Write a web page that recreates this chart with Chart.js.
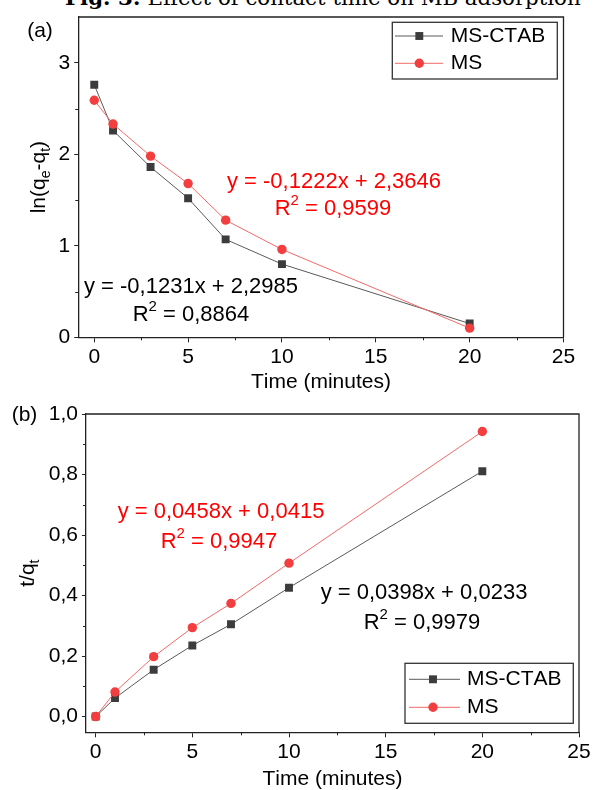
<!DOCTYPE html>
<html>
<head>
<meta charset="utf-8">
<script src="https://cdn.jsdelivr.net/npm/chart.js@4.4.0/dist/chart.umd.min.js"></script>
<style>
  body { margin: 0; background: #fff; width: 595px; height: 790px; position: relative; overflow: hidden; }
  .panel { position: absolute; left: 0; width: 595px; height: 395px; }
  #heading { position: absolute; left: 65px; top: -15px; font-family: "DejaVu Serif", serif; font-size: 21.3px; white-space: nowrap; color: #000; }
</style>
</head>
<body>
<div id="heading"><b>Fig. 3:</b> Effect of contact time on MB adsorption</div>
<div class="panel" style="top:0"><canvas id="chartA" width="595" height="395"></canvas></div>
<div class="panel" style="top:395px"><canvas id="chartB" width="595" height="395"></canvas></div>
<script>
const FONT = "'Liberation Sans', Arial, sans-serif";

// Values
const timeMin = [0, 1, 3, 5, 7, 10, 20];
const lnCtab = [2.76, 2.26, 1.86, 1.52, 1.07, 0.80, 0.15];
const lnMs = [2.59, 2.33, 1.98, 1.68, 1.28, 0.96, 0.10];
const tqCtab = [0.000, 0.061, 0.155, 0.235, 0.305, 0.426, 0.811];
const tqMs = [0.000, 0.081, 0.198, 0.294, 0.374, 0.507, 0.942];

const seriesNames = ['MS-CTAB', 'MS'];
const xTicks = [0, 5, 10, 15, 20, 25];
const xMinor = [2.5, 7.5, 12.5, 17.5, 22.5];
const lnTicks = [0, 1, 2, 3];
const lnMinor = [0.5, 1.5, 2.5];
const tqTicks = [0, 0.2, 0.4, 0.6, 0.8, 1.0];
const tqMinor = [0.1, 0.3, 0.5, 0.7, 0.9];

// Fit equations shown on the plots (^ = superscript, _ = subscript)
const fitTextA = [
  { lines: ['y = -0,1222x + 2,3646', 'R^2 = 0,9599'], color: '#ff0000', pos: [[334, 182], [333, 209]] },
  { lines: ['y = -0,1231x + 2,2985', 'R^2 = 0,8864'], color: '#000000', pos: [[191, 287], [191, 315]] }
];
const fitTextB = [
  { lines: ['y = 0,0458x + 0,0415', 'R^2 = 0,9947'], color: '#ff0000', pos: [[221, 117], [219, 147]] },
  { lines: ['y = 0,0398x + 0,0233', 'R^2 = 0,9979'], color: '#000000', pos: [[424, 198], [422, 228]] }
];

const ctabStyle = { line: '#5a5a5a', mark: '#3c3c3c', pointStyle: 'rect', radius: 5.6 };
const msStyle = { line: '#f36a6a', mark: '#f23e3e', pointStyle: 'circle', radius: 4.7 };

// Draw a string with ^x (sup) and _x (sub) markers
function drawRich(ctx, str, x, y, size, color, align) {
  const parts = [];
  for (let i = 0; i < str.length; i++) {
    const c = str[i];
    if ((c === '^' || c === '_') && i + 1 < str.length) {
      parts.push({ t: str[i + 1], k: c });
      i++;
    } else {
      parts.push({ t: c, k: '' });
    }
  }
  const small = Math.round(size * 0.66);
  let total = 0;
  parts.forEach(p => {
    ctx.font = (p.k ? small : size) + 'px ' + FONT;
    p.w = ctx.measureText(p.t).width;
    total += p.w;
  });
  let cx = align === 'left' ? x : x - total / 2;
  ctx.fillStyle = color;
  ctx.textAlign = 'left';
  ctx.textBaseline = 'middle';
  parts.forEach(p => {
    let dy = 0;
    if (p.k === '^') dy = -size * 0.36;
    if (p.k === '_') dy = size * 0.32;
    ctx.font = (p.k ? small : size) + 'px ' + FONT;
    ctx.fillText(p.t, cx, y + dy);
    cx += p.w;
  });
}

function makeDecor(cfg) {
  return {
    id: 'decor',
    afterDraw(chart) {
      const ctx = chart.ctx;
      const a = chart.chartArea;
      const xs = chart.scales.x;
      const ys = chart.scales.y;
      ctx.save();

      // frame top and right
      ctx.strokeStyle = '#222';
      ctx.lineWidth = 1.3;
      ctx.beginPath();
      ctx.moveTo(a.left, a.top);
      ctx.lineTo(a.right, a.top);
      ctx.lineTo(a.right, a.bottom);
      ctx.stroke();

      // minor ticks
      ctx.lineWidth = 1;
      ctx.beginPath();
      cfg.minorX.forEach(v => {
        const px = Math.round(xs.getPixelForValue(v)) + 0.5;
        ctx.moveTo(px, a.bottom);
        ctx.lineTo(px, a.bottom + 3);
      });
      cfg.minorY.forEach(v => {
        const py = Math.round(ys.getPixelForValue(v)) + 0.5;
        ctx.moveTo(a.left, py);
        ctx.lineTo(a.left - 3, py);
      });
      ctx.stroke();

      // axis titles
      drawRich(ctx, 'Time (minutes)', (a.left + a.right) / 2, cfg.xTitleY, 21, '#000');
      ctx.save();
      ctx.translate(cfg.yTitleX, (a.top + a.bottom) / 2);
      ctx.rotate(-Math.PI / 2);
      drawRich(ctx, cfg.yTitle, 0, 0, 21, '#000');
      ctx.restore();

      // panel label
      drawRich(ctx, cfg.panel[0], cfg.panel[1], cfg.panel[2], 21, '#000');

      // fit equations
      cfg.fits.forEach(f => {
        f.lines.forEach((s, i) => drawRich(ctx, s, f.pos[i][0], f.pos[i][1], 22, f.color));
      });

      // legend
      const L = cfg.legend;
      ctx.fillStyle = '#fff';
      ctx.fillRect(L.x, L.y, L.w, L.h);
      ctx.strokeStyle = '#333';
      ctx.lineWidth = 1.3;
      ctx.strokeRect(L.x, L.y, L.w, L.h);
      chart.data.datasets.forEach((ds, row) => {
        const y = L.rows[row];
        ctx.strokeStyle = ds.borderColor;
        ctx.lineWidth = ds.borderWidth;
        ctx.beginPath();
        ctx.moveTo(L.lx1, y);
        ctx.lineTo(L.lx2, y);
        ctx.stroke();
        ctx.fillStyle = ds.pointBackgroundColor;
        ctx.strokeStyle = ds.pointBackgroundColor;
        Chart.helpers.drawPoint(ctx, { pointStyle: ds.pointStyle, radius: ds.pointRadius, borderWidth: 0, rotation: 0 }, L.mx, y);
        drawRich(ctx, ds.label, L.tx, y, 21, '#000', 'left');
      });

      ctx.restore();
    }
  };
}

function series(name, xs, ys, st, order) {
  return {
    label: name,
    data: xs.map((t, i) => ({ x: t, y: ys[i] })),
    borderColor: st.line,
    borderWidth: 1,
    pointStyle: st.pointStyle,
    pointRadius: st.radius,
    pointBorderWidth: 0,
    pointBackgroundColor: st.mark,
    pointBorderColor: st.mark,
    order: order
  };
}

function makeChart(id, o) {
  return new Chart(document.getElementById(id), {
    type: 'line',
    data: {
      datasets: [
        series(seriesNames[0], timeMin, o.ctab, ctabStyle, 2),
        series(seriesNames[1], timeMin, o.ms, msStyle, 1)
      ]
    },
    options: {
      responsive: false,
      animation: false,
      layout: { padding: { left: 0, top: o.padTop, right: o.padRight, bottom: 0 } },
      plugins: { legend: { display: false }, tooltip: { enabled: false } },
      scales: {
        x: {
          type: 'linear',
          min: o.xMin,
          max: 25,
          afterBuildTicks: s => { s.ticks = xTicks.map(v => ({ value: v })); },
          afterFit: s => { s.height = o.xHeight; },
          grid: { drawOnChartArea: false, tickLength: 5, tickColor: '#222', tickWidth: 1 },
          border: { color: '#222', width: 1.3 },
          ticks: { color: '#000', font: { family: FONT, size: 21 }, padding: 2, maxRotation: 0 }
        },
        y: {
          min: o.yMin,
          max: o.yMax,
          afterBuildTicks: s => { s.ticks = o.yTicks.map(v => ({ value: v })); },
          afterFit: s => { s.width = o.yWidth; },
          grid: { drawOnChartArea: false, tickLength: 4, tickColor: '#222', tickWidth: 1 },
          border: { color: '#222', width: 1.3 },
          ticks: { color: '#000', font: { family: FONT, size: 21 }, padding: 4, callback: o.fmt }
        }
      }
    },
    plugins: [makeDecor(o.decor)]
  });
}

makeChart('chartA', {
  ctab: lnCtab, ms: lnMs,
  xMin: -0.85, yMin: 0, yMax: 3.5, yTicks: lnTicks,
  padTop: 17, padRight: 31.5, xHeight: 57.7, yWidth: 78.3,
  fmt: v => String(v),
  decor: {
    minorX: xMinor, minorY: lnMinor,
    xTitleY: 382, yTitleX: 39, yTitle: 'ln(q_e-q_t)',
    panel: ['(a)', 40, 31],
    fits: fitTextA,
    legend: { x: 392.3, y: 22.3, w: 165, h: 56.7, rows: [36, 63.3], lx1: 395, lx2: 443, mx: 419.3, tx: 450.7 }
  }
});

makeChart('chartB', {
  ctab: tqCtab, ms: tqMs,
  xMin: -0.5, yMin: -0.052, yMax: 1.0, yTicks: tqTicks,
  padTop: 19, padRight: 16, xHeight: 57.7, yWidth: 86,
  fmt: v => v.toFixed(1).replace('.', ','),
  decor: {
    minorX: xMinor, minorY: tqMinor,
    xTitleY: 384, yTitleX: 28, yTitle: 't/q_t',
    panel: ['(b)', 24.5, 20],
    fits: fitTextB,
    legend: { x: 405, y: 268.3, w: 168.3, h: 60, rows: [284.3, 312.3], lx1: 409, lx2: 460, mx: 433, tx: 467 }
  }
});
</script>
</body>
</html>
